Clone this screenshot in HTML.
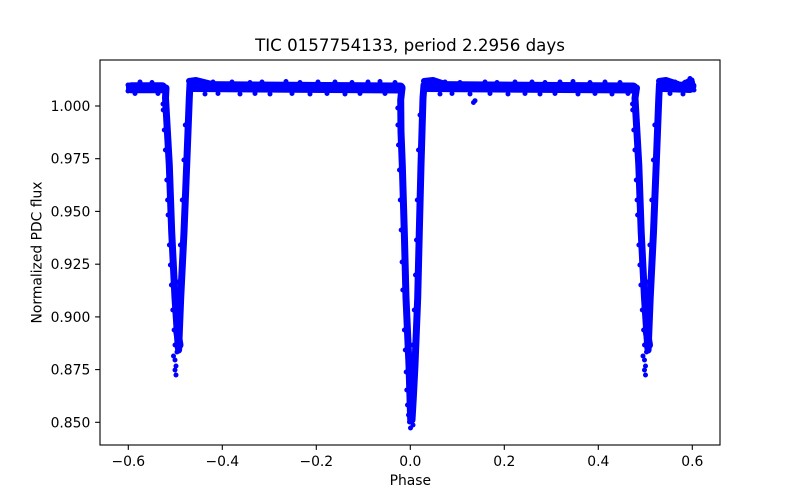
<!DOCTYPE html>
<html>
<head>
<meta charset="utf-8">
<style>
  html,body{margin:0;padding:0;background:#fff;}
  svg{display:block;}
  text{font-family:"DejaVu Sans","Liberation Sans",sans-serif;fill:#000;}
</style>
</head>
<body>
<svg width="800" height="500" viewBox="0 0 800 500" xmlns="http://www.w3.org/2000/svg">
  <rect x="0" y="0" width="800" height="500" fill="#fff"/>

  <!-- DATA -->
  <g fill="none" stroke="#0000ff" stroke-linecap="round" stroke-linejoin="round">
    <!-- baseline bands -->
    <path stroke-width="11" d="M131.5 87.8 L162 87.8 M193 86.5 L400 88 M426 86.5 L633 88 M663 86.5 L690 87.5"/>
    <!-- bumps above baseline after egress -->
    <path stroke-width="6" d="M189 81 L196 80 L212 84 M424 81 L433 80 L445 84 M659 81 L666 80 L678 84 M684 84 L692 82"/>
    <!-- right end blob -->
    <path stroke-width="9" d="M686 84 L692 86"/>

    <!-- left secondary eclipse -->
    <path stroke-width="7" d="M166 88 L165.5 98 L169.3 165 L171.7 232 L175 298 L178.3 348"/>
    <path stroke-width="7" d="M178.6 350 L180.7 298 L184 232 L186.7 165 L189.3 98 L190 84"/>
    <path stroke-width="8" d="M177 330 L179.5 345"/>

    <!-- primary eclipse -->
    <path stroke-width="7" d="M402 88 L400.7 100 L401 132 L402.3 165 L404.3 232 L406 298 L409 365 L410 398 L410.7 420"/>
    <path stroke-width="7" d="M412 420 L413.3 398 L415 365 L417.7 298 L419.3 232 L421 165 L423 98 L424 85"/>

    <!-- right secondary eclipse -->
    <path stroke-width="7" d="M636.5 88 L635 98 L638.8 165 L641.2 232 L644.5 298 L647.8 348"/>
    <path stroke-width="7" d="M648.1 350 L650.2 298 L653.5 232 L656.2 165 L658.8 98 L659.5 84"/>
    <path stroke-width="8" d="M646.5 330 L649 345"/>

    <!-- scattered dots -->
    <path stroke-width="5" d="
      M140 82h0 M152 82.5h0 M200 81h0 M213 82h0 M232 82h0 M250 82.5h0 M262 82h0 M286 81.5h0 M300 82.5h0 M318 82h0 M335 82h0 M352 82.5h0 M368 82h0 M380 81.5h0 M395 82.5h0
      M445 82h0 M460 82.5h0 M485 82h0 M497 82.5h0 M515 82h0 M532 82h0 M545 82.5h0 M560 82h0 M573 81.5h0 M590 82.5h0 M605 82h0 M620 82.5h0 M675 82h0 M688 81h0
      M135 93.5h0 M158 93.5h0 M205 94h0 M218 93.5h0 M240 94h0 M255 93.5h0 M270 94h0 M292 93.5h0 M310 94h0 M327 93.5h0 M345 94h0 M360 93.5h0 M385 93.5h0
      M440 94h0 M452 93.5h0 M470 94h0 M490 93.5h0 M508 94h0 M525 93.5h0 M540 94h0 M555 93.5h0 M578 94h0 M595 93.5h0 M612 94h0 M628 93.5h0 M670 93.5h0 M683 94h0
      M475 100.7h0 M473.5 102.5h0
      M128 85h0 M128 91h0 M692 80h0 M694 90h0 M690 78.5h0
      M397.8 108h0 M397.9 125h0 M398.5 145h0 M399.5 170h0 M400.3 200h0 M401.2 230h0 M402.1 262h0 M402.8 290h0 M404.4 330h0 M405.3 350h0 M406.2 372h0 M406.8 390h0 M407.5 405h0 M408.5 415h0 M409.5 422h0 M410.5 428h0
      M420 115h0 M418.5 150h0 M417.3 200h0 M416.5 240h0 M415.5 275h0 M414.3 310h0 M413 345h0 M412 380h0 M411.5 405h0 M411 412h0 M413 425h0 M409 398h0
      M163 104h0 M163.2 110h0 M164.3 130h0 M165.4 150h0 M166.8 180h0 M167.6 200h0 M168.1 215h0 M169.4 245h0 M170.4 265h0 M171.4 285h0 M172.8 310h0 M174.1 330h0 M175 345h0
      M173.5 356h0 M175 360h0 M176 366h0 M175 370h0 M176 375h0 M177 352h0
      M185.3 125h0 M183.9 160h0 M182.3 200h0 M180.4 245h0 M178.5 282h0
      M632.5 104h0 M632.7 110h0 M633.8 130h0 M634.9 150h0 M636.3 180h0 M637.1 200h0 M637.6 215h0 M638.9 245h0 M639.9 265h0 M640.9 285h0 M642.3 310h0 M643.6 330h0 M644.5 345h0
      M643 356h0 M644.5 360h0 M645.5 366h0 M644.5 370h0 M645.5 375h0 M646.5 352h0
      M654.8 125h0 M653.4 160h0 M651.8 200h0 M649.9 245h0 M648 282h0
    "/>
  </g>

  <!-- AXES FRAME -->
  <rect x="100" y="60" width="620" height="385" fill="none" stroke="#000" stroke-width="1.1"/>

  <!-- X ticks -->
  <g stroke="#000" stroke-width="1.1">
    <line x1="128.3" y1="445" x2="128.3" y2="449.9"/>
    <line x1="222.3" y1="445" x2="222.3" y2="449.9"/>
    <line x1="316.3" y1="445" x2="316.3" y2="449.9"/>
    <line x1="410.3" y1="445" x2="410.3" y2="449.9"/>
    <line x1="504.3" y1="445" x2="504.3" y2="449.9"/>
    <line x1="598.3" y1="445" x2="598.3" y2="449.9"/>
    <line x1="692.3" y1="445" x2="692.3" y2="449.9"/>
  </g>
  <g font-size="13.89" text-anchor="middle">
    <text x="128.3" y="466">−0.6</text>
    <text x="222.3" y="466">−0.4</text>
    <text x="316.3" y="466">−0.2</text>
    <text x="410.3" y="466">0.0</text>
    <text x="504.3" y="466">0.2</text>
    <text x="598.3" y="466">0.4</text>
    <text x="692.3" y="466">0.6</text>
  </g>

  <!-- Y ticks -->
  <g stroke="#000" stroke-width="1.1">
    <line x1="95.1" y1="106" x2="100" y2="106"/>
    <line x1="95.1" y1="158.7" x2="100" y2="158.7"/>
    <line x1="95.1" y1="211.4" x2="100" y2="211.4"/>
    <line x1="95.1" y1="264.2" x2="100" y2="264.2"/>
    <line x1="95.1" y1="316.9" x2="100" y2="316.9"/>
    <line x1="95.1" y1="369.6" x2="100" y2="369.6"/>
    <line x1="95.1" y1="422.3" x2="100" y2="422.3"/>
  </g>
  <g font-size="13.89" text-anchor="end">
    <text x="90.3" y="111">1.000</text>
    <text x="90.3" y="163.7">0.975</text>
    <text x="90.3" y="216.4">0.950</text>
    <text x="90.3" y="269.2">0.925</text>
    <text x="90.3" y="321.9">0.900</text>
    <text x="90.3" y="374.6">0.875</text>
    <text x="90.3" y="427.3">0.850</text>
  </g>

  <!-- Labels -->
  <text x="410.3" y="485" font-size="13.89" text-anchor="middle">Phase</text>
  <text transform="translate(41.6,252.5) rotate(-90)" font-size="13.89" text-anchor="middle">Normalized PDC flux</text>
  <text x="410" y="51" font-size="16.67" text-anchor="middle">TIC 0157754133, period 2.2956 days</text>
</svg>
</body>
</html>
